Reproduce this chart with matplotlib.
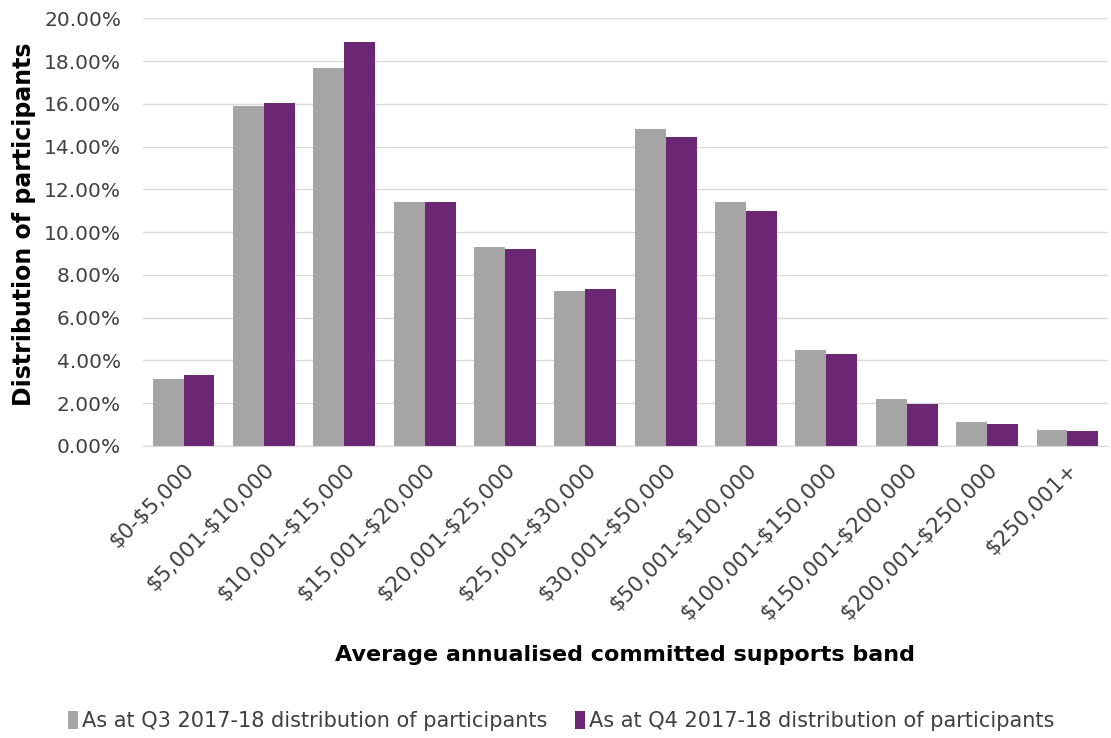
import numpy as np
import matplotlib
matplotlib.use("Agg")
import matplotlib.pyplot as plt
from matplotlib.ticker import PercentFormatter

plt.rcParams['font.family'] = ['DejaVu Sans']
plt.rcParams['text.parse_math'] = False   # labels contain literal dollar signs

bands = ['$0-$5,000', '$5,001-$10,000', '$10,001-$15,000', '$15,001-$20,000',
         '$20,001-$25,000', '$25,001-$30,000', '$30,001-$50,000', '$50,001-$100,000',
         '$100,001-$150,000', '$150,001-$200,000', '$200,001-$250,000', '$250,001+']
q3 = [3.13, 15.9, 17.7, 11.4, 9.28, 7.25, 14.84, 11.4, 4.49, 2.17, 1.11, 0.73]
q4 = [3.29, 16.03, 18.9, 11.4, 9.21, 7.34, 14.47, 11.0, 4.29, 1.95, 1.04, 0.67]
labels = ['As at Q3 2017-18 distribution of participants',
          'As at Q4 2017-18 distribution of participants']

grey = '#A5A5A5'
purple = '#6B2674'
text_col = '#404040'

fig = plt.figure(figsize=(11.11, 7.38), dpi=100)
ax = fig.add_axes([0.129, 0.396, 0.868, 0.579])

x = np.arange(len(bands))
w = 0.385
ax.bar(x - w / 2, q3, w, color=grey, label=labels[0], zorder=2)
ax.bar(x + w / 2, q4, w, color=purple, label=labels[1], zorder=2)

ax.set_xlim(-0.5, len(bands) - 0.5)
ax.set_ylim(0, 20)
ax.set_yticks(np.arange(0, 21, 2))
ax.yaxis.set_major_formatter(PercentFormatter(decimals=2))
ax.grid(axis='y', color='#D9D9D9', linewidth=1, zorder=0)
for s in ['top', 'right', 'left']:
    ax.spines[s].set_visible(False)
ax.spines['bottom'].set_color('#D9D9D9')
ax.tick_params(axis='both', length=0, colors=text_col)
ax.tick_params(axis='y', labelsize=14.5, pad=16)
ax.tick_params(axis='x', labelsize=15.5, pad=10)

ax.set_xticks(x)
ax.set_xticklabels(bands, rotation=45, ha='right', rotation_mode='anchor')

ax.set_ylabel('Distribution of participants', fontsize=17, fontweight='bold', va='center')
ax.yaxis.set_label_coords(-0.124, 0.519)
ax.set_xlabel('Average annualised committed supports band', fontsize=16,
              fontweight='bold', va='center')
ax.xaxis.set_label_coords(0.5, -0.489)

fig.legend(*ax.get_legend_handles_labels(), loc='center', bbox_to_anchor=(0.505, 0.023),
           ncol=2, frameon=False, fontsize=15, handlelength=0.5, handleheight=1.0,
           handletextpad=0.2, columnspacing=1.3, labelcolor=text_col)

fig.savefig('out.png', dpi=100)
